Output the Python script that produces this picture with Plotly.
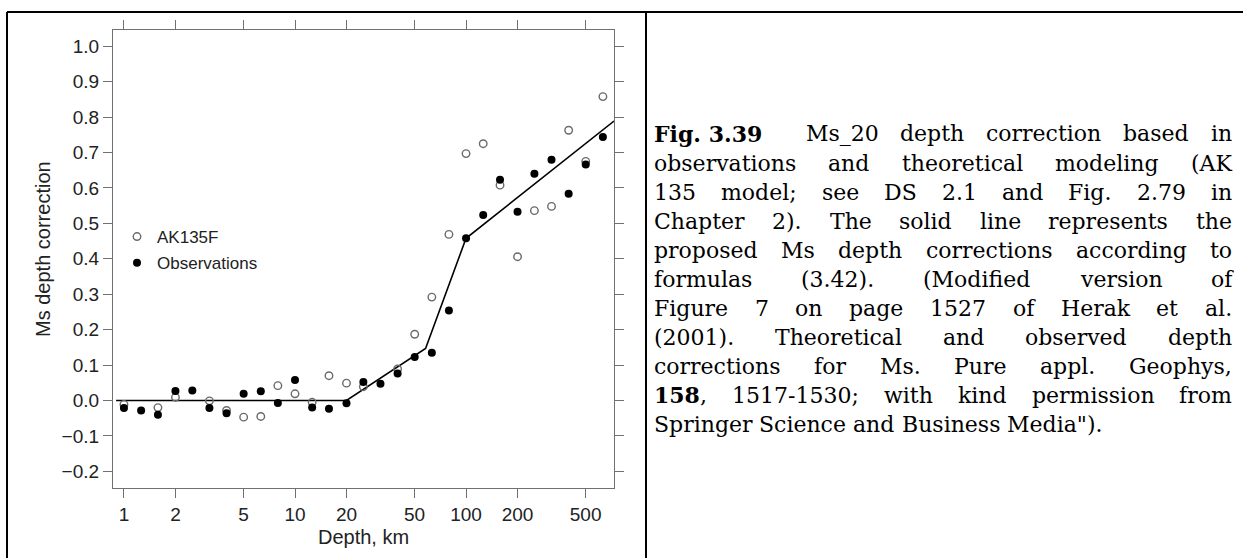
import os
import struct
import plotly.graph_objects as go

# ---------------- data ----------------
depth_km = [1, 1.26, 1.58, 2, 2.51, 3.16, 3.98, 5.01, 6.31, 7.94, 10, 12.6, 15.8, 20,
            25.1, 31.6, 39.8, 50.1, 63.1, 79.4, 100, 126, 158, 200, 251, 316, 398, 501, 631]
ak135f = [-0.011, None, -0.020, 0.009, None, -0.001, -0.028, -0.047, -0.045, 0.042,
          0.019, -0.005, 0.070, 0.049, 0.039, None, 0.089, 0.187, 0.292, 0.469,
          0.697, 0.725, 0.608, 0.406, 0.536, 0.548, 0.763, 0.675, 0.858]
observations = [-0.021, -0.028, -0.040, 0.027, 0.028, -0.021, -0.036, 0.019, 0.026, -0.007,
                0.058, -0.020, -0.023, -0.008, 0.052, 0.047, 0.076, 0.123, 0.135, 0.254,
                0.458, 0.524, 0.623, 0.533, 0.640, 0.680, 0.584, 0.666, 0.744]
fit_depth = [0.9, 20, 58, 100, 733]
fit_corr = [0.0, 0.0, 0.147, 0.458, 0.789]

x_ticks = [1, 2, 5, 10, 20, 50, 100, 200, 500]
x_tick_labels = ["1", "2", "5", "10", "20", "50", "100", "200", "500"]
y_ticks = [-0.2, -0.1, 0.0, 0.1, 0.2, 0.3, 0.4, 0.5, 0.6, 0.7, 0.8, 0.9, 1.0]
y_tick_labels = ["\u22120.2", "\u22120.1", "0.0", "0.1", "0.2", "0.3", "0.4",
                 "0.5", "0.6", "0.7", "0.8", "0.9", "1.0"]

caption_lines = [
    "**Fig.\u00a03.39**  Ms_20 depth correction based in",
    "observations and theoretical modeling (AK",
    "135 model; see DS 2.1 and Fig. 2.79 in",
    "Chapter 2). The solid line represents the",
    "proposed Ms depth corrections according to",
    "formulas (3.42). (Modified version of",
    "Figure 7 on page 1527 of Herak et al.",
    "(2001). Theoretical and observed depth",
    "corrections for Ms. Pure appl. Geophys,",
    "**158**, 1517-1530; with kind permission from",
    "Springer Science and Business Media\").",
]

# ---------------- layout constants ----------------
W, H = 1243, 558
PL, PR, PT, PB = 113, 614, 30, 488
AX_COL = "#707070"
SANS = "Liberation Sans, Arial, sans-serif"
SERIF = "DejaVu Serif, serif"

fig = go.Figure()

fig.add_trace(go.Scatter(x=fit_depth, y=fit_corr, mode="lines",
                         line=dict(color="black", width=1.6), showlegend=False,
                         hoverinfo="skip"))
fig.add_trace(go.Scatter(x=depth_km, y=ak135f, mode="markers", name="AK135F",
                         legendgroup="a",
                         marker=dict(symbol="circle-open", size=7.5, color="#6a6a6a",
                                     line=dict(width=1.4, color="#6a6a6a"))))
fig.add_trace(go.Scatter(x=depth_km, y=observations, mode="markers", name="Observations",
                         legendgroup="b",
                         marker=dict(symbol="circle", size=8, color="black")))

axis_common = dict(showline=True, linecolor=AX_COL, linewidth=1.3, mirror="ticks",
                   ticks="outside", ticklen=9, tickwidth=1.2, tickcolor=AX_COL,
                   showgrid=False, zeroline=False,
                   tickfont=dict(family=SANS, size=19, color="#222"))

fig.update_xaxes(type="log", range=[-0.064, 2.865], tickvals=x_ticks, ticktext=x_tick_labels,
                 domain=[PL / W, PR / W], **axis_common)
fig.update_yaxes(range=[-0.247, 1.046], tickvals=y_ticks, ticktext=y_tick_labels,
                 domain=[1 - PB / H, 1 - PT / H], **axis_common)

annotations = [
    dict(text="Depth, km", x=(PL + PR) / 2 / W, y=1 - 537 / H, xref="paper", yref="paper",
         xanchor="center", yanchor="middle", showarrow=False,
         font=dict(family=SANS, size=20, color="#222")),
    dict(text="Ms depth correction", x=43 / W, y=1 - 249 / H, xref="paper", yref="paper",
         xanchor="center", yanchor="middle", showarrow=False, textangle=-90,
         font=dict(family=SANS, size=20, color="#222")),
]


# ---------------- font metrics (read from the installed font files) ----------------
def find_font(name):
    for root in ["/usr/share/fonts", "/usr/local/share/fonts",
                 os.path.expanduser("~/.fonts"), os.path.expanduser("~/.local/share/fonts")]:
        if not os.path.isdir(root):
            continue
        for dp, _, files in os.walk(root):
            if name in files:
                return os.path.join(dp, name)
    return None


def load_advances(path):
    data = open(path, "rb").read()
    num_tables = struct.unpack(">H", data[4:6])[0]
    tables = {}
    for i in range(num_tables):
        off = 12 + 16 * i
        tag = data[off:off + 4].decode("latin-1")
        _, toff, tlen = struct.unpack(">III", data[off + 4:off + 16])
        tables[tag] = toff
    head = tables["head"]
    upem = struct.unpack(">H", data[head + 18:head + 20])[0]
    hhea = tables["hhea"]
    nhm = struct.unpack(">H", data[hhea + 34:hhea + 36])[0]
    hmtx = tables["hmtx"]
    adv = [struct.unpack(">H", data[hmtx + 4 * i:hmtx + 4 * i + 2])[0] for i in range(nhm)]
    cmap = tables["cmap"]
    n = struct.unpack(">H", data[cmap + 2:cmap + 4])[0]
    sub = None
    for i in range(n):
        pid, eid, off = struct.unpack(">HHI", data[cmap + 4 + 8 * i:cmap + 12 + 8 * i])
        fmt = struct.unpack(">H", data[cmap + off:cmap + off + 2])[0]
        if fmt == 4:
            sub = cmap + off
            break
    seg2 = struct.unpack(">H", data[sub + 6:sub + 8])[0]
    segc = seg2 // 2
    ends = struct.unpack(">%dH" % segc, data[sub + 14:sub + 14 + seg2])
    so = sub + 16 + seg2
    starts = struct.unpack(">%dH" % segc, data[so:so + seg2])
    do = so + seg2
    deltas = struct.unpack(">%dh" % segc, data[do:do + seg2])
    ro = do + seg2
    ros = struct.unpack(">%dH" % segc, data[ro:ro + seg2])

    def glyph(ch):
        code = ord(ch)
        for s in range(segc):
            if ends[s] >= code:
                if starts[s] > code:
                    return 0
                if ros[s] == 0:
                    return (code + deltas[s]) & 0xFFFF
                addr = ro + 2 * s + ros[s] + 2 * (code - starts[s])
                g = struct.unpack(">H", data[addr:addr + 2])[0]
                return 0 if g == 0 else (g + deltas[s]) & 0xFFFF
        return 0

    cache = {}

    def width(ch):
        if ch not in cache:
            g = glyph(ch)
            cache[ch] = adv[min(g, nhm - 1)] / upem
        return cache[ch]
    return width


TIMES = {' ': 250, '\u00a0': 250, '"': 408, '(': 333, ')': 333, ',': 250, '-': 333, '.': 250,
         ';': 278, '_': 500, 'A': 722, 'B': 667, 'C': 667, 'D': 722, 'F': 556, 'G': 722,
         'H': 722, 'K': 722, 'M': 889, 'P': 556, 'S': 556, 'T': 611,
         'a': 444, 'b': 500, 'c': 444, 'd': 500, 'e': 444, 'f': 333, 'g': 500, 'h': 500,
         'i': 278, 'k': 500, 'l': 278, 'm': 778, 'n': 500, 'o': 500, 'p': 500, 'r': 333,
         's': 389, 't': 278, 'u': 500, 'v': 500, 'w': 722, 'y': 500}


def fallback(ch):
    return TIMES.get(ch, 500) * 1.27 / 1000.0


try:
    reg_w = load_advances(find_font("DejaVuSerif.ttf"))
except Exception:
    reg_w = fallback
try:
    bold_w = load_advances(find_font("DejaVuSerif-Bold.ttf"))
except Exception:
    bold_w = lambda ch: fallback(ch) * 1.08

# ---------------- justified caption ----------------
FS = 22
LEFT, RIGHT = 653, 1231
LINE0, LSTEP = 134, 29


def word_parts(word):
    parts = word.split("**")
    return [(p, k % 2 == 1) for k, p in enumerate(parts) if p]


def word_width(word):
    w = 0.0
    for txt, bold in word_parts(word):
        f = bold_w if bold else reg_w
        w += sum(f(c) for c in txt)
    return w * FS


def word_html(word):
    return "".join(f"<b>{t}</b>" if b else t for t, b in word_parts(word))


for i, line in enumerate(caption_lines):
    words = line.split(" ")
    nat = sum(word_width(w) for w in words)
    nsep = len(words) - 1
    last = i == len(caption_lines) - 1
    gap = reg_w(" ") * FS if last else (RIGHT - LEFT - nat) / nsep
    x = LEFT
    yc = LINE0 + i * LSTEP
    for w in words:
        if w:
            annotations.append(dict(text=word_html(w), x=x / W, y=1 - yc / H,
                                    xref="paper", yref="paper", xanchor="left",
                                    yanchor="middle", showarrow=False, borderpad=0,
                                    font=dict(family=SERIF, size=FS, color="black")))
        x += word_width(w) + gap

shapes = [
    dict(type="line", xref="paper", yref="paper", x0=7 / W, x1=1, y0=1 - 12 / H, y1=1 - 12 / H,
         line=dict(color="black", width=2)),
    dict(type="line", xref="paper", yref="paper", x0=7 / W, x1=7 / W, y0=0, y1=1 - 12 / H,
         line=dict(color="black", width=2)),
    dict(type="line", xref="paper", yref="paper", x0=646 / W, x1=646 / W, y0=0, y1=1 - 12 / H,
         line=dict(color="black", width=2)),
]

fig.update_layout(
    width=W, height=H, autosize=False,
    margin=dict(l=0, r=0, t=0, b=0),
    paper_bgcolor="white", plot_bgcolor="white",
    annotations=annotations, shapes=shapes,
    showlegend=True,
    legend=dict(x=117 / W, y=1 - 219 / H, xanchor="left", yanchor="top",
                bgcolor="rgba(0,0,0,0)", font=dict(family=SANS, size=17, color="#222"),
                tracegroupgap=1, itemwidth=30),
)

fig.write_html("out.html", config={"displayModeBar": False},
               post_script="document.body.style.margin='0px';document.body.style.overflow='hidden';")
